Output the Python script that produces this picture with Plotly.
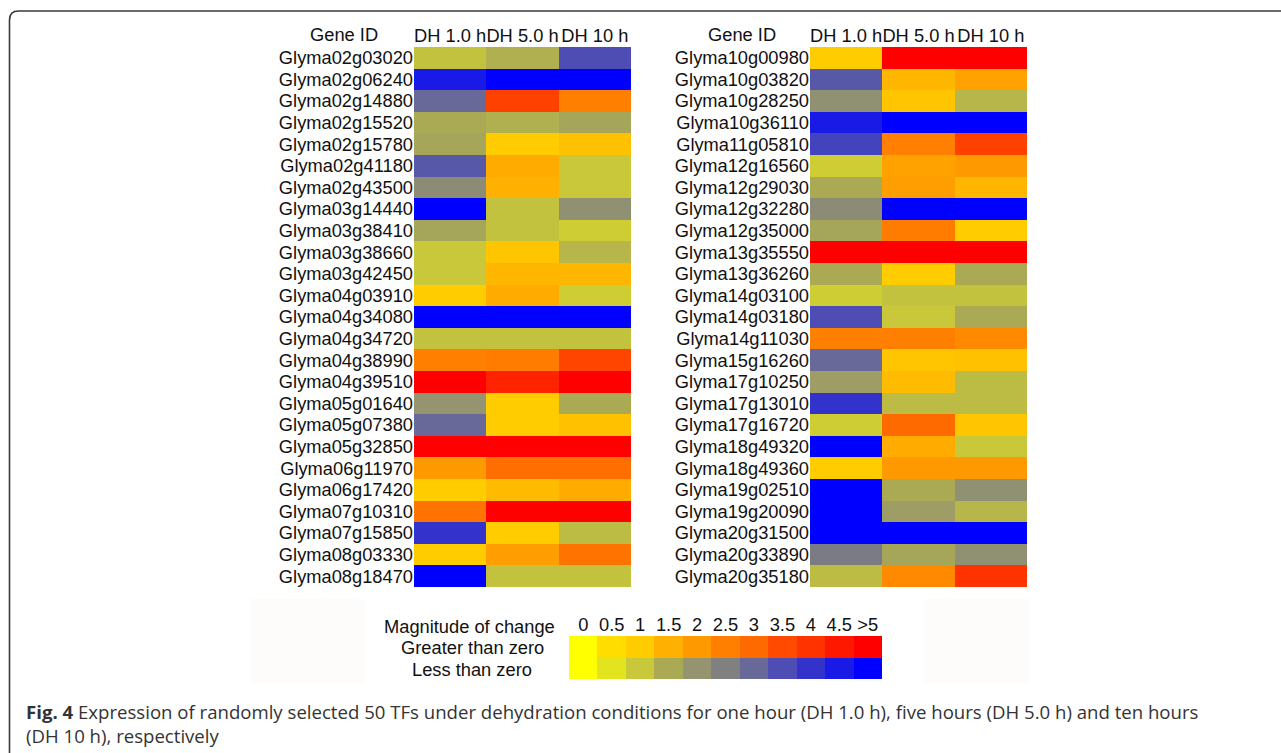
import plotly.graph_objects as go

# ---------------- data ----------------
conditions = ["DH 1.0 h", "DH 5.0 h", "DH 10 h"]

left_genes = ["Glyma02g03020", "Glyma02g06240", "Glyma02g14880", "Glyma02g15520", "Glyma02g15780",
              "Glyma02g41180", "Glyma02g43500", "Glyma03g14440", "Glyma03g38410", "Glyma03g38660",
              "Glyma03g42450", "Glyma04g03910", "Glyma04g34080", "Glyma04g34720", "Glyma04g38990",
              "Glyma04g39510", "Glyma05g01640", "Glyma05g07380", "Glyma05g32850", "Glyma06g11970",
              "Glyma06g17420", "Glyma07g10310", "Glyma07g15850", "Glyma08g03330", "Glyma08g18470"]
left_dh1 = [-1.1, -4.5, -3.0, -1.5, -1.6, -3.3, -2.2, -5.0, -1.6, -1.0, -1.0, 1.0, -5.0, -1.1, 2.5,
            5.0, -2.0, -3.0, 5.0, 2.0, 1.0, 2.8, -4.0, 1.0, -5.0]
left_dh5 = [-1.4, -5.0, 3.7, -1.4, 1.0, 1.6, 1.5, -1.1, -1.1, 1.1, 1.4, 1.6, -5.0, -1.1, 2.6,
            4.3, 1.0, 1.0, 5.0, 2.9, 1.3, 5.0, 1.0, 1.9, -1.1]
left_dh10 = [-3.5, -5.0, 2.5, -1.6, 1.2, -1.0, -1.0, -2.1, -0.9, -1.3, 1.4, -0.9, -5.0, -1.1, 3.6,
             5.0, -1.5, 1.2, 5.0, 2.9, 1.6, 5.0, -1.2, 2.8, -1.1]

right_genes = ["Glyma10g00980", "Glyma10g03820", "Glyma10g28250", "Glyma10g36110", "Glyma11g05810",
               "Glyma12g16560", "Glyma12g29030", "Glyma12g32280", "Glyma12g35000", "Glyma13g35550",
               "Glyma13g36260", "Glyma14g03100", "Glyma14g03180", "Glyma14g11030", "Glyma15g16260",
               "Glyma17g10250", "Glyma17g13010", "Glyma17g16720", "Glyma18g49320", "Glyma18g49360",
               "Glyma19g02510", "Glyma19g20090", "Glyma20g31500", "Glyma20g33890", "Glyma20g35180"]
right_dh1 = [1.0, -3.3, -2.1, -4.5, -3.7, -0.9, -1.5, -2.2, -1.6, 5.0, -1.5, -0.9, -3.5, 2.5, -3.0,
             -1.8, -4.0, -0.9, -5.0, 1.0, -5.0, -5.0, -5.0, -2.6, -1.2]
right_dh5 = [5.0, 1.4, 1.1, -5.0, 2.5, 1.8, 1.9, -5.0, 2.6, 5.0, 1.0, -1.1, -1.0, 2.5, 1.1,
             1.3, -1.2, 3.0, 1.6, 2.0, -1.5, -1.8, -5.0, -1.6, 2.3]
right_dh10 = [5.0, 1.8, -1.3, -5.0, 3.7, 2.0, 1.4, -5.0, 1.0, 5.0, -1.5, -1.1, -1.5, 2.3, 1.2,
              -1.2, -1.2, 1.1, -1.0, 2.0, -2.1, -1.3, -5.0, -2.1, 4.0]

scale_labels = ["0", "0.5", "1", "1.5", "2", "2.5", "3", "3.5", "4", "4.5", ">5"]
scale_values = [0, 0.5, 1, 1.5, 2, 2.5, 3, 3.5, 4, 4.5, 5]
scale_rows = ["Greater than zero", "Less than zero"]

# ---------------- styles ----------------
pos_colors = ["#FFFF00", "#FFDD00", "#FFCC00", "#FFB000", "#FF9900", "#FF8000",
              "#FF6A00", "#FF4A00", "#FF3300", "#FF1800", "#FF0000"]
neg_colors = ["#FFFF00", "#E4E41E", "#C8C83A", "#AAAA55", "#949470", "#808080",
              "#686899", "#4D4DB3", "#3333CC", "#1A1AE6", "#0000FF"]

colorscale = []
for v, c in zip(scale_values[::-1], neg_colors[::-1]):
    colorscale.append([(-v + 5) / 10, c])
for v, c in zip(scale_values[1:], pos_colors[1:]):
    colorscale.append([(v + 5) / 10, c])

W, H = 1281, 753
FONT = "Liberation Sans, Arial, sans-serif"
FS = 18.3


def fx(p):
    return p / W


def fy(p):
    return 1 - p / H


def cols_to_rows(*cols):
    return [list(r) for r in zip(*cols)]


fig = go.Figure()
hm_common = dict(colorscale=colorscale, zmin=-5, zmax=5, showscale=False, hoverinfo="skip")

fig.add_trace(go.Heatmap(z=cols_to_rows(left_dh1, left_dh5, left_dh10), x=conditions, y=left_genes,
                         xaxis="x", yaxis="y", **hm_common))
fig.add_trace(go.Heatmap(z=cols_to_rows(right_dh1, right_dh5, right_dh10), x=conditions, y=right_genes,
                         xaxis="x2", yaxis="y2", **hm_common))
fig.add_trace(go.Heatmap(z=[scale_values, [-v for v in scale_values]], x=scale_labels, y=scale_rows,
                         xaxis="x3", yaxis="y3", **hm_common))

tickfont = dict(family=FONT, size=FS, color="#111111")
xcommon = dict(type="category", side="top", showgrid=False, zeroline=False, showline=False, ticks="",
               tickfont=tickfont, fixedrange=True, automargin=False, tickangle=0)
ycommon = dict(type="category", showgrid=False, zeroline=False, showline=False, ticks="",
               autorange="reversed", tickfont=tickfont, fixedrange=True, automargin=False)

fig.update_layout(
    template="none",
    width=W, height=H,
    margin=dict(l=0, r=0, t=0, b=0),
    paper_bgcolor="white", plot_bgcolor="white",
    xaxis=dict(domain=[fx(414), fx(631)], anchor="y", tickmode="array", tickvals=conditions,
               ticktext=conditions, **xcommon),
    yaxis=dict(domain=[fy(587), fy(47)], anchor="x", tickmode="array", tickvals=left_genes,
               ticktext=left_genes, **ycommon),
    xaxis2=dict(domain=[fx(810), fx(1027)], anchor="y2", tickmode="array", tickvals=conditions,
                ticktext=conditions, **xcommon),
    yaxis2=dict(domain=[fy(587), fy(47)], anchor="x2", tickmode="array", tickvals=right_genes,
                ticktext=right_genes, **ycommon),
    xaxis3=dict(domain=[fx(569), fx(882)], anchor="y3", tickmode="array", tickvals=scale_labels,
                ticktext=scale_labels, **xcommon),
    yaxis3=dict(domain=[fy(679), fy(636)], anchor="x3", showticklabels=False, **ycommon),
)

shapes = [
    # faint panel behind the legend
    dict(type="rect", xref="paper", yref="paper", x0=fx(250), x1=fx(1030), y0=fy(683), y1=fy(599),
         fillcolor="#FDFCFB", line=dict(width=0), layer="below"),
    dict(type="rect", xref="paper", yref="paper", x0=fx(365), x1=fx(924), y0=fy(683), y1=fy(599),
         fillcolor="#FFFFFF", line=dict(width=0), layer="below"),
    # rounded frame
    dict(type="path", xref="paper", yref="paper",
         path=f"M {fx(9.5)},{fy(760)} L {fx(9.5)},{fy(20)} Q {fx(9.5)},{fy(11)} {fx(18.5)},{fy(11)} L {fx(1300)},{fy(11)}",
         line=dict(color="#3a3a3a", width=1.6)),
]
fig.update_layout(shapes=shapes)

ann_font = dict(family=FONT, size=FS, color="#111111")
annotations = [
    dict(text="Gene ID", x=fx(344), y=fy(35), xanchor="center", yanchor="middle"),
    dict(text="Gene ID", x=fx(742), y=fy(35), xanchor="center", yanchor="middle"),
    dict(text="Magnitude of change", x=fx(557), y=fy(626), xanchor="right", yanchor="middle"),
    dict(text="Greater than zero", x=fx(472), y=fy(647), xanchor="center", yanchor="middle"),
    dict(text="Less than zero", x=fx(472), y=fy(669), xanchor="center", yanchor="middle"),
]
for a in annotations:
    a.update(xref="paper", yref="paper", showarrow=False, font=ann_font)

cap_font = dict(family="Open Sans, sans-serif", size=18.6, color="#333333")
annotations += [
    dict(text="<b>Fig. 4</b> Expression of randomly selected 50 TFs under dehydration conditions for one hour "
              "(DH 1.0 h), five hours (DH 5.0 h) and ten hours",
         x=fx(24), y=fy(711), xanchor="left", yanchor="middle", xref="paper", yref="paper",
         showarrow=False, font=cap_font),
    dict(text="(DH 10 h), respectively",
         x=fx(24), y=fy(735), xanchor="left", yanchor="middle", xref="paper", yref="paper",
         showarrow=False, font=cap_font),
]
fig.update_layout(annotations=annotations)

fig.write_html("out.html", config={"displayModeBar": False},
               post_script="document.body.style.margin='0';document.body.style.overflow='hidden';")
